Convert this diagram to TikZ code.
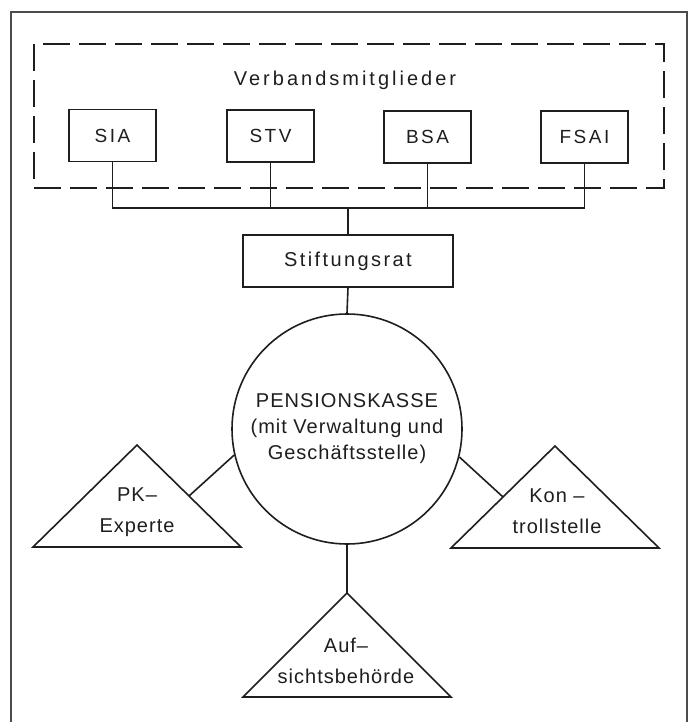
\documentclass[tikz,border=0pt]{standalone}
\usepackage{fontspec}
\setmainfont{Liberation Sans}
\newfontfamily\lab[LetterSpace=5]{Liberation Sans}
\newfontfamily\labbox[LetterSpace=13]{Liberation Sans}
\newfontfamily\labmid[LetterSpace=12]{Liberation Sans}
\newfontfamily\labwide[LetterSpace=15]{Liberation Sans}
\usetikzlibrary{calc}
\definecolor{ink}{RGB}{30,30,30}
\begin{document}
\begin{tikzpicture}[x=1pt,y=-1pt]
\tikzset{
  memberbox/.style={draw=ink, line width=1.6pt, minimum width=87pt, minimum height=52pt, inner sep=0pt, text=ink, font=\labbox\fontsize{19}{22}\selectfont},
  councilbox/.style={memberbox, minimum width=210pt, font=\labmid\fontsize{20}{22}\selectfont},
  fundcircle/.style={draw=ink, line width=1.6pt, circle, minimum size=230pt, inner sep=0pt, align=center, text=ink, font=\lab\fontsize{20}{26}\selectfont},
  tritext/.style={align=center, inner sep=0pt, text=ink, font=\lab\fontsize{20}{31}\selectfont},
  trishape/.style={draw=ink, line width=1.6pt, line join=miter},
  conn/.style={draw=ink, line width=1.6pt},
  dashframe/.style={draw=ink, line width=1.6pt, dash pattern=on 27pt off 9pt},
  outerframe/.style={draw=black!70, line width=1.3pt},
}
\useasboundingbox (0,0) rectangle (692,722);
\fill[white] (0,0) rectangle (692,722);
\draw[outerframe] (11,722) -- (11,12) -- (687,12) -- (687,722);

% group of members
\draw[dashframe] (34,44) rectangle (664,188);
\node[anchor=base, inner sep=0pt, text=ink, font=\labwide\fontsize{20}{22}\selectfont] (vtitle) at (345,86) {Verbandsmitglieder};

\node[memberbox] (sia)  at (112.5,135.5) {SIA};
\node[memberbox] (stv)  at (270.5,136) {STV};
\node[memberbox] (bsa)  at (427.5,137) {BSA};
\node[memberbox] (fsai) at (584.5,137) {FSAI};

\coordinate (bus) at (348,208);
\node[councilbox] (stift) at (348,261) {Stiftungsrat};

\draw[conn] (sia.south) -- (sia.south |- bus) -- (fsai.south |- bus) -- (fsai.south);
\draw[conn] (stv.south) -- (stv.south |- bus);
\draw[conn] (bsa.south) -- (bsa.south |- bus);
\draw[conn] (bus) -- (stift.north);

% fund
\node[fundcircle] (pk) at (347,429) {PENSIONSKASSE\\(mit Verwaltung und\\Geschäftsstelle)};
\draw[conn] (stift.south) -- (pk.north);

% triangles
\coordinate (pkA) at (137,445);
\coordinate (pkL) at (33,547);
\coordinate (pkR) at (241,547);
\draw[trishape] (pkA) -- (pkL) -- (pkR) -- cycle;
\node[tritext] (pkt) at (137,512) {PK–\\Experte};

\coordinate (koA) at (555,446);
\coordinate (koL) at (451,548);
\coordinate (koR) at (659,548);
\draw[trishape] (koA) -- (koL) -- (koR) -- cycle;
\node[tritext] (kot) at (557,511) {Kon –\\trollstelle};

\coordinate (auA) at (347,593);
\coordinate (auL) at (243,697);
\coordinate (auR) at (451,697);
\draw[trishape] (auA) -- (auL) -- (auR) -- cycle;
\node[tritext] (aut) at (346,661) {Auf–\\sichtsbehörde};

\coordinate (pkside) at ($(pkA)!0.5!(pkR)$);
\coordinate (koside) at ($(koA)!0.5!(koL)$);
\draw[conn] (pk.193) -- (pkside);
\draw[conn] (pk.346) -- (koside);
\draw[conn] (pk.south) -- (auA);
\end{tikzpicture}
\end{document}
